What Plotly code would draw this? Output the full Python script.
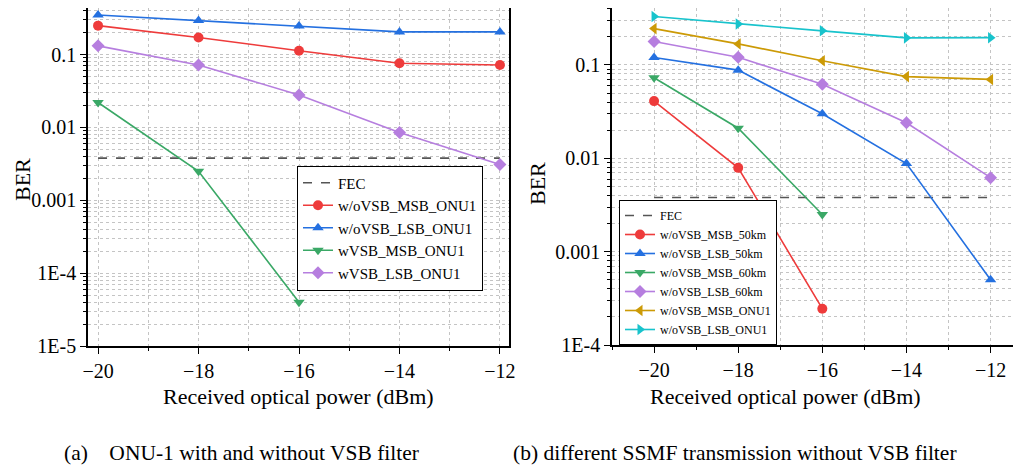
import plotly.graph_objects as go

FONT = "Liberation Serif, Times New Roman, serif"

# ---------------- data ----------------
power = [-20, -18, -16, -14, -12]
fec_x = [-20, -12]
fec_level = 0.0038

# (a) ONU-1 with and without VSB filter
a_wo_msb_onu1 = [0.25, 0.172, 0.113, 0.076, 0.072]
a_wo_lsb_onu1 = [0.35, 0.295, 0.248, 0.205, 0.205]
a_w_msb_onu1 = [0.022, 0.0025, 0.00004]
a_w_lsb_onu1 = [0.132, 0.072, 0.028, 0.0085, 0.0031]

# (b) different SSMF transmission without VSB filter
b_wo_msb_50 = [0.041, 0.0079, 0.000245]
b_wo_lsb_50 = [0.12, 0.088, 0.030, 0.0088, 0.0005]
b_wo_msb_60 = [0.073, 0.021, 0.0025]
b_wo_lsb_60 = [0.178, 0.121, 0.062, 0.024, 0.0062]
b_wo_msb_onu1 = [0.245, 0.168, 0.111, 0.075, 0.070]
b_wo_lsb_onu1 = [0.33, 0.275, 0.232, 0.195, 0.196]

a_tickvals = [1e-5, 1e-4, 1e-3, 1e-2, 1e-1]
a_ticktext = ["1E-5", "1E-4", "0.001", "0.01", "0.1"]
b_tickvals = [1e-4, 1e-3, 1e-2, 1e-1]
b_ticktext = ["1E-4", "0.001", "0.01", "0.1"]
x_tickvals = [-20, -18, -16, -14, -12]

# ---------------- styles ----------------
RED = "#EE3B3B"
BLUE = "#2470E0"
GREEN = "#3AA866"
PURPLE = "#B67EDF"
GOLD = "#CC9A06"
CYAN = "#18C3CC"
FECC = "#555555"

fig = go.Figure()

def add(x, y, name, color, symbol, xa, ya, legend):
    fig.add_trace(go.Scatter(
        x=x, y=y, name=name, mode="lines+markers",
        line=dict(color=color, width=1.6),
        marker=dict(color=color, symbol=symbol, size=10),
        xaxis=xa, yaxis=ya, legend=legend))

# panel a
fig.add_trace(go.Scatter(x=fec_x, y=[fec_level, fec_level], name="FEC", mode="lines",
                         line=dict(color=FECC, width=1.6, dash="dash"),
                         xaxis="x", yaxis="y", legend="legend"))
add(power, a_wo_msb_onu1, "w/oVSB_MSB_ONU1", RED, "circle", "x", "y", "legend")
add(power, a_wo_lsb_onu1, "w/oVSB_LSB_ONU1", BLUE, "triangle-up", "x", "y", "legend")
add(power[:3], a_w_msb_onu1, "wVSB_MSB_ONU1", GREEN, "triangle-down", "x", "y", "legend")
add(power, a_w_lsb_onu1, "wVSB_LSB_ONU1", PURPLE, "diamond", "x", "y", "legend")

# panel b
fig.add_trace(go.Scatter(x=fec_x, y=[fec_level, fec_level], name="FEC", mode="lines",
                         line=dict(color=FECC, width=1.6, dash="dash"),
                         xaxis="x2", yaxis="y2", legend="legend2"))
add(power[:3], b_wo_msb_50, "w/oVSB_MSB_50km", RED, "circle", "x2", "y2", "legend2")
add(power, b_wo_lsb_50, "w/oVSB_LSB_50km", BLUE, "triangle-up", "x2", "y2", "legend2")
add(power[:3], b_wo_msb_60, "w/oVSB_MSB_60km", GREEN, "triangle-down", "x2", "y2", "legend2")
add(power, b_wo_lsb_60, "w/oVSB_LSB_60km", PURPLE, "diamond", "x2", "y2", "legend2")
add(power, b_wo_msb_onu1, "w/oVSB_MSB_ONU1", GOLD, "triangle-left", "x2", "y2", "legend2")
add(power, b_wo_lsb_onu1, "w/oVSB_LSB_ONU1", CYAN, "triangle-right", "x2", "y2", "legend2")

GRID = "#c4c4c4"
tickfont = dict(family=FONT, size=20, color="black")

# The page body has an 8px margin, so positions are shifted by OFF.
OFF = 8
W, H = 1013, 458

def px(x):
    return (x - OFF) / W

def py(y):
    return 1 - (y - OFF) / H

def xaxis(domain, rng, anchor):
    return dict(domain=domain, range=rng, anchor=anchor, automargin=False,
                tickvals=x_tickvals, ticks="outside", ticklen=6, tickwidth=1.2,
                tickcolor="black", tickfont=tickfont,
                showline=True, linecolor="black", linewidth=1.5, mirror=True,
                showgrid=True, gridcolor=GRID, griddash="dot", gridwidth=1,
                zeroline=False,
                minor=dict(dtick=1, tick0=-21, ticks="outside", ticklen=3,
                           tickcolor="black", showgrid=True, gridcolor=GRID,
                           griddash="dot", gridwidth=1))

def yaxis(domain, rng, anchor, tv, tt):
    return dict(domain=domain, type="log", range=rng, anchor=anchor, automargin=False,
                tickvals=tv, ticktext=tt, ticks="outside", ticklen=6, tickwidth=1.2,
                tickcolor="black", tickfont=tickfont,
                showline=True, linecolor="black", linewidth=1.5, mirror=True,
                showgrid=True, gridcolor=GRID, griddash="dot", gridwidth=1,
                zeroline=False,
                minor=dict(dtick="D1", ticks="outside", ticklen=3,
                           tickcolor="black", showgrid=True, gridcolor=GRID,
                           griddash="dot", gridwidth=1))

fig.update_layout(
    width=W, height=H,
    margin=dict(l=0, r=0, t=0, b=0, autoexpand=False),
    paper_bgcolor="white", plot_bgcolor="white",
    font=dict(family=FONT, color="black"),
    xaxis=xaxis([px(88), px(509)], [-20.2, -11.82], "y"),
    yaxis=yaxis([py(346), py(8)], [-5, -0.36], "x", a_tickvals, a_ticktext),
    xaxis2=xaxis([px(612), min(1.0, px(1020))], [-21, -11.3], "y2"),
    yaxis2=yaxis([py(345), py(8)], [-4, -0.39], "x2", b_tickvals, b_ticktext),
    legend=dict(x=px(297), y=py(228), xanchor="left", yanchor="middle",
                bgcolor="white", bordercolor="black", borderwidth=1,
                font=dict(family=FONT, size=15), tracegroupgap=0,
                itemwidth=30),
    legend2=dict(x=px(619), y=py(345), xanchor="left", yanchor="bottom",
                 bgcolor="white", bordercolor="black", borderwidth=1,
                 font=dict(family=FONT, size=12), tracegroupgap=0,
                 itemwidth=30),
    showlegend=True,
)

ann_font = dict(family=FONT, size=22, color="black")
cap_font = dict(family=FONT, size=21.5, color="black")
anns = [
    dict(text="BER", x=px(22), y=py(180), textangle=-90, font=ann_font),
    dict(text="BER", x=px(537), y=py(184), textangle=-90, font=ann_font),
    dict(text="Received optical power (dBm)", x=px(298), y=py(396), font=ann_font),
    dict(text="Received optical power (dBm)", x=px(785), y=py(396), font=ann_font),
    dict(text="(a)    ONU-1 with and without VSB filter", x=px(241), y=py(453), font=cap_font),
    dict(text="(b) different SSMF transmission without VSB filter", x=px(735), y=py(453), font=cap_font),
]
for a in anns:
    fig.add_annotation(xref="paper", yref="paper", showarrow=False,
                       xanchor="center", yanchor="middle", **a)

fig.write_html("out.html")
